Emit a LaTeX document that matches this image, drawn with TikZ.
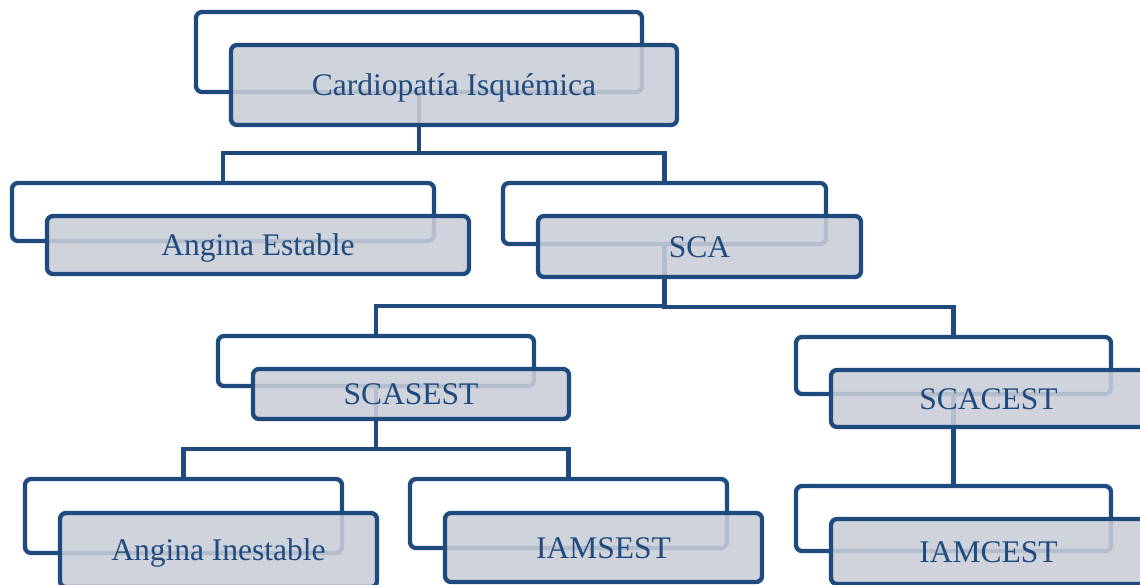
\documentclass[tikz,border=0pt]{standalone}
\usepackage{fontspec}
\setmainfont{Liberation Serif}
\usepackage{xcolor}
\usepackage{tikz}
\usetikzlibrary{positioning,calc}

\definecolor{frameblue}{HTML}{1F4A7D}
\definecolor{cardgray}{RGB}{201,205,215}

\begin{document}
\begin{tikzpicture}[x=1pt, y=-1pt,
    font=\fontsize{31.5}{36}\selectfont,
    backframe/.style={draw=frameblue, line width=4.3pt, rounded corners=6pt,
      fill=white, inner sep=0pt, outer sep=0pt},
    card/.style={draw=frameblue, line width=4.3pt, rounded corners=6pt,
      fill=cardgray, fill opacity=0.88, text opacity=1, text=frameblue,
      inner sep=0pt, outer sep=0pt, text height=21pt, text depth=0pt},
    link/.style={draw=frameblue, line width=4.3pt}]
  \useasboundingbox (0,0) rectangle (1140,584);
  \clip (0,0) rectangle (1140,584);

  % back frames
  \node[backframe, minimum width=446pt, minimum height=80pt] (ciB) at (419,52) {};
  \node[backframe, minimum width=422pt, minimum height=58pt] (aeB) at (223,212) {};
  \node[backframe, minimum width=323pt, minimum height=61pt] (scaB) at (664.5,213.5) {};
  \node[backframe, minimum width=316pt, minimum height=50pt] (sasB) at (376,361) {};
  \node[backframe, minimum width=315pt, minimum height=57pt] (sacB) at (953.5,365.5) {};
  \node[backframe, minimum width=317pt, minimum height=74pt] (aiB) at (183.5,516) {};
  \node[backframe, minimum width=317pt, minimum height=69pt] (imsB) at (568.5,513.5) {};
  \node[backframe, minimum width=315pt, minimum height=65pt] (imcB) at (953.5,518.5) {};

  % connectors
  \draw[link] (ciB.south) |- ([yshift=30pt]aeB.north) -- (aeB.north);
  \draw[link] (ciB.south) |- ([yshift=30pt]scaB.north) -- (scaB.north);
  \draw[link] (scaB.south) |- ([yshift=30pt]sasB.north) -- (sasB.north);
  \draw[link] (scaB.south) |- ([yshift=30pt]sacB.north) -- (sacB.north);
  \draw[link] (sasB.south) |- ([yshift=30pt]aiB.north) -- (aiB.north);
  \draw[link] (sasB.south) |- ([yshift=30pt]imsB.north) -- (imsB.north);
  \draw[link] (sacB.south) -- (imcB.north);

  % front cards
  \node[card, minimum width=446pt, minimum height=80pt] (ci)
    at ([xshift=35pt,yshift=-33pt]ciB.center) {Cardiopatía Isquémica};
  \node[card, minimum width=422pt, minimum height=58pt] (ae)
    at ([xshift=35pt,yshift=-33pt]aeB.center) {Angina Estable};
  \node[card, minimum width=323pt, minimum height=61pt] (sca)
    at ([xshift=35pt,yshift=-33pt]scaB.center) {SCA};
  \node[card, minimum width=316pt, minimum height=50pt] (sas)
    at ([xshift=35pt,yshift=-33pt]sasB.center) {SCASEST};
  \node[card, minimum width=315pt, minimum height=57pt] (sac)
    at ([xshift=35pt,yshift=-33pt]sacB.center) {SCACEST};
  \node[card, minimum width=317pt, minimum height=74pt] (ai)
    at ([xshift=35pt,yshift=-34pt]aiB.center) {Angina Inestable};
  \node[card, minimum width=317pt, minimum height=69pt] (ims)
    at ([xshift=35pt,yshift=-34pt]imsB.center) {IAMSEST};
  \node[card, minimum width=315pt, minimum height=65pt] (imc)
    at ([xshift=35pt,yshift=-33pt]imcB.center) {IAMCEST};
\end{tikzpicture}
\end{document}
